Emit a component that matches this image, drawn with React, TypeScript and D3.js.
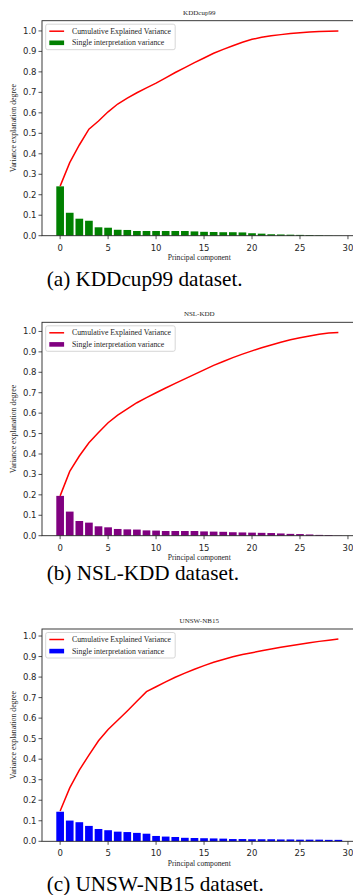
import React from "react";
import * as d3 from "d3";

const components = d3.range(30);
const xTicks = [0, 5, 10, 15, 20, 25, 30];
const yTicks = [0, 0.1, 0.2, 0.3, 0.4, 0.5, 0.6, 0.7, 0.8, 0.9, 1.0];

const kddBars = [0.241, 0.112, 0.083, 0.073, 0.041, 0.039, 0.029, 0.028, 0.023, 0.023, 0.023, 0.023, 0.023, 0.023, 0.021, 0.019, 0.018, 0.017, 0.017, 0.016, 0.012, 0.010, 0.007, 0.006, 0.005, 0.004, 0.003, 0.002, 0.001, 0.0005];
const kddCum = [0.242, 0.357, 0.443, 0.52, 0.56, 0.605, 0.643, 0.672, 0.698, 0.722, 0.745, 0.771, 0.797, 0.821, 0.845, 0.868, 0.891, 0.91, 0.928, 0.945, 0.959, 0.969, 0.977, 0.982, 0.987, 0.991, 0.995, 0.997, 0.999, 1.0];

const nslBars = [0.195, 0.118, 0.072, 0.064, 0.046, 0.041, 0.033, 0.031, 0.030, 0.026, 0.025, 0.023, 0.023, 0.023, 0.023, 0.021, 0.020, 0.019, 0.017, 0.016, 0.015, 0.014, 0.013, 0.011, 0.009, 0.008, 0.006, 0.004, 0.003, 0.001];
const nslCum = [0.195, 0.315, 0.39, 0.455, 0.505, 0.553, 0.59, 0.621, 0.651, 0.676, 0.70, 0.723, 0.746, 0.768, 0.79, 0.812, 0.834, 0.853, 0.872, 0.889, 0.905, 0.92, 0.934, 0.947, 0.959, 0.969, 0.978, 0.986, 0.992, 0.995];

const unswBars = [0.144, 0.101, 0.093, 0.075, 0.06, 0.054, 0.047, 0.045, 0.041, 0.037, 0.026, 0.023, 0.021, 0.017, 0.016, 0.015, 0.014, 0.013, 0.011, 0.011, 0.010, 0.010, 0.010, 0.009, 0.009, 0.008, 0.008, 0.008, 0.007, 0.007];
const unswCum = [0.148, 0.26, 0.347, 0.42, 0.49, 0.545, 0.59, 0.635, 0.682, 0.729, 0.753, 0.777, 0.799, 0.819, 0.838, 0.856, 0.872, 0.886, 0.899, 0.91, 0.919, 0.928, 0.937, 0.945, 0.953, 0.96, 0.967, 0.974, 0.98, 0.985];

const titles = ["KDDcup99", "NSL-KDD", "UNSW-NB15"];
const captions = ["(a) KDDcup99 dataset.", "(b) NSL-KDD dataset.", "(c) UNSW-NB15 dataset."];
const barColors = ["#008000", "#800080", "#0000ff"];
const lineLabel = "Cumulative Explained Variance";
const barLabel = "Single interpretation variance";

const SERIF = "'Liberation Serif', 'Times New Roman', serif";
const SANS = "'DejaVu Sans', sans-serif";

type PanelProps = {
  top: number; bottom: number; bars: number[]; cum: number[];
  title: string; caption: string; color: string; captionY: number;
};

function Panel({ top, bottom, bars, cum, title, caption, color, captionY }: PanelProps) {
  const left = 42, right = 356.5;
  const ymax = d3.max(cum)! * 1.05;
  const x = d3.scaleLinear().domain([-1.89, 30.89]).range([left, right]);
  const y = d3.scaleLinear().domain([0, ymax]).range([bottom, top]);
  const bw = x(0.8) - x(0);
  const line = d3.line<number>().x((_, i) => x(i)).y((d) => y(d));
  const ink = "#262626";
  return (
    <g>
      <text x={(left + right) / 2} y={top - 6} textAnchor="middle" fontFamily={SERIF} fontSize={7} fill={ink}>{title}</text>
      {components.map((i) => (
        <rect key={i} x={x(i) - bw / 2} y={y(bars[i])} width={bw} height={bottom - y(bars[i])} fill={color} />
      ))}
      <path d={line(cum)!} fill="none" stroke="#ff0000" strokeWidth={1.5} />
      <rect x={left} y={top} width={right - left} height={bottom - top} fill="none" stroke={ink} strokeWidth={0.9} />
      {yTicks.map((t) => (
        <g key={t}>
          <line x1={left - 3.5} x2={left} y1={y(t)} y2={y(t)} stroke={ink} strokeWidth={0.8} />
          <text x={left - 5.5} y={y(t)} dy="0.35em" textAnchor="end" fontFamily={SANS} fontSize={8.5} fill={ink}>{t.toFixed(1)}</text>
        </g>
      ))}
      {xTicks.map((t) => (
        <g key={t}>
          <line x1={x(t)} x2={x(t)} y1={bottom} y2={bottom + 3.5} stroke={ink} strokeWidth={0.8} />
          <text x={x(t)} y={bottom + 15} textAnchor="middle" fontFamily={SANS} fontSize={8.5} fill={ink}>{t}</text>
        </g>
      ))}
      <text x={(left + right) / 2} y={bottom + 24.5} textAnchor="middle" fontFamily={SERIF} fontSize={7.6} fill={ink}>Principal component</text>
      <text transform={`translate(15.5,${(top + bottom) / 2}) rotate(-90)`} textAnchor="middle" fontFamily={SERIF} fontSize={7.8} fill={ink}>Variance explanation degree</text>
      <g transform={`translate(45.7,${top + 3.5})`}>
        <rect x={0} y={0} width={129.5} height={25.5} rx={2} fill="#ffffff" fillOpacity={0.8} stroke="#cccccc" strokeWidth={0.8} />
        <line x1={3.6} x2={18.4} y1={7} y2={7} stroke="#ff0000" strokeWidth={1.5} />
        <rect x={3.6} y={16.3} width={14.8} height={4.6} fill={color} />
        <text x={26.3} y={7} dy="0.33em" fontFamily={SERIF} fontSize={7.8} fill={ink}>{lineLabel}</text>
        <text x={26.3} y={18.6} dy="0.33em" fontFamily={SERIF} fontSize={7.8} fill={ink}>{barLabel}</text>
      </g>
      <text x={46.7} y={captionY} fontFamily={SERIF} fontSize={21.2} fill="#000">{caption}</text>
    </g>
  );
}

export default function App() {
  const panels = [
    { top: 20.7, bottom: 235.7, bars: kddBars, cum: kddCum, captionY: 286 },
    { top: 322.3, bottom: 535.7, bars: nslBars, cum: nslCum, captionY: 580 },
    { top: 629, bottom: 841.3, bars: unswBars, cum: unswCum, captionY: 891 },
  ];
  return (
    <svg width={353} height={895} style={{ position: "absolute", left: 0, top: 0, background: "#fff" }}>
      <rect x={0} y={0} width={353} height={895} fill="#fff" />
      {panels.map((p, i) => (
        <Panel key={i} {...p} title={titles[i]} caption={captions[i]} color={barColors[i]} />
      ))}
    </svg>
  );
}
